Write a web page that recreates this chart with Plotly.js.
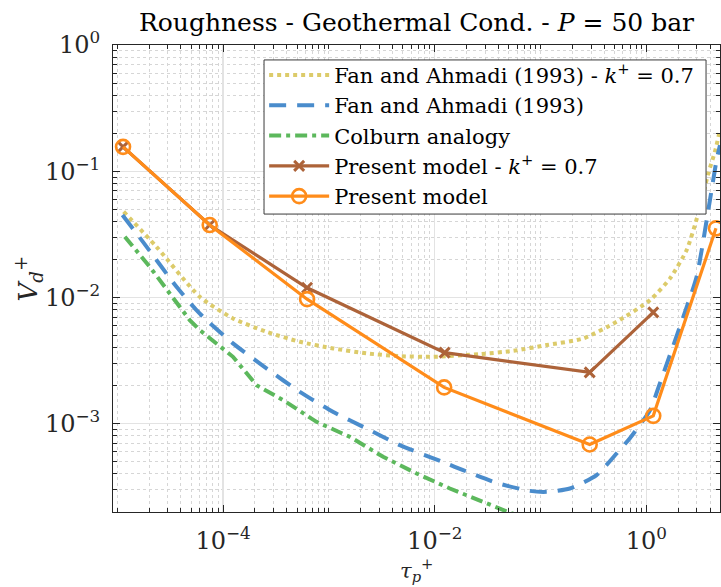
<!DOCTYPE html>
<html>
<head>
<meta charset="utf-8">
<script src="https://cdn.plot.ly/plotly-3.0.1.min.js"></script>
<style>html,body{margin:0;padding:0;background:#fff;}#chart{width:721px;height:587px;}</style>
</head>
<body>
<div id="chart"></div>
<script>
// Fan and Ahmadi (1993) - k+ = 0.7
const fanK_x = [1.15e-5, 2.35e-5, 6.02e-5, 1.24e-4, 2.57e-4, 5.31e-4, 1.10e-3, 2.26e-3, 4.68e-3, 9.66e-3, 0.0267, 0.0551, 0.114, 0.253, 0.523, 1.08, 1.67, 2.40, 3.09, 3.84, 4.44, 4.95];
const fanK_y = [0.0478, 0.0252, 0.01013, 0.00683, 0.00535, 0.00446, 0.00395, 0.00361, 0.00343, 0.00339, 0.00356, 0.00378, 0.00420, 0.00474, 0.00642, 0.00953, 0.01417, 0.0238, 0.0464, 0.0962, 0.143, 0.212];
// Fan and Ahmadi (1993)
const fan_x = [1.12e-5, 1.75e-5, 3.63e-5, 5.61e-5, 6.97e-5, 1.24e-4, 2.57e-4, 5.31e-4, 1.10e-3, 2.26e-3, 4.68e-3, 0.01295, 0.01853, 0.0384, 0.0793, 0.114, 0.189, 0.338, 0.523, 0.698, 1.08, 1.34, 2.23, 2.98, 3.98, 4.60, 4.95];
const fan_y = [0.0450, 0.0276, 0.01216, 0.00794, 0.00662, 0.00433, 0.00274, 0.00179, 0.00124, 9.18e-4, 6.77e-4, 4.84e-4, 4.29e-4, 3.40e-4, 2.94e-4, 2.89e-4, 3.07e-4, 3.92e-4, 5.82e-4, 7.69e-4, 1.28e-3, 2.09e-3, 7.03e-3, 0.0146, 0.0591, 0.1227, 0.161];
// Colburn analogy
const colburn_x = [1.18e-5, 2.03e-5, 4.84e-5, 6.02e-5, 1.24e-4, 2.07e-4, 3.69e-4, 7.64e-4, 1.58e-3, 3.25e-3, 6.73e-3, 0.0139, 0.0494, 0.152];
const colburn_y = [0.0303, 0.0175, 0.00662, 0.00552, 0.00339, 0.00202, 0.00154, 1.035e-3, 7.87e-4, 5.47e-4, 4.04e-4, 3.07e-4, 2.0e-4, 1.44e-4];
// Present model - k+ = 0.7
const presentK_x = [1.135e-5, 7.48e-5, 6.22e-4, 0.0124, 0.291, 1.16];
const presentK_y = [0.156, 0.0375, 0.01194, 0.00366, 0.00255, 0.00762];
// Present model
const present_x = [1.135e-5, 7.48e-5, 6.22e-4, 0.01227, 0.291, 1.16, 4.54];
const present_y = [0.156, 0.0375, 0.0097, 0.00194, 6.85e-4, 1.155e-3, 0.0353];

const xTickVals = [1e-4, 1e-2, 1];
const xTickText = ['10<sup>−4</sup>', '10<sup>−2</sup>', '10<sup>0</sup>'];
const yTickVals = [1e-3, 1e-2, 1e-1, 1];
const yTickText = ['10<sup>−3</sup>', '10<sup>−2</sup>', '10<sup>−1</sup>', '10<sup>0</sup>'];

function minorVals(lo, hi) {
  const v = [];
  for (let e = lo; e <= hi; e++) {
    for (let m = 1; m <= 9; m++) v.push(m * Math.pow(10, e));
  }
  return v;
}
const xMinor = minorVals(-6, 1).filter(v => xTickVals.every(t => Math.abs(t - v) / t > 1e-6));
const yMinor = minorVals(-4, 0).filter(v => yTickVals.every(t => Math.abs(t - v) / t > 1e-6));

const FONT = 'DejaVu Serif';
const ink = '#262626';

const traces = [
  {x: fanK_x, y: fanK_y, name: 'Fan and Ahmadi (1993) - <i>k</i><sup>+</sup> = 0.7', mode: 'lines',
   line: {color: '#dccb6a', width: 4, dash: '4px,4px', shape: 'spline', smoothing: 0.6}},
  {x: fan_x, y: fan_y, name: 'Fan and Ahmadi (1993)', mode: 'lines',
   line: {color: '#4a8ccc', width: 4, dash: '17px,11px', shape: 'spline', smoothing: 0.6}},
  {x: colburn_x, y: colburn_y, name: 'Colburn analogy', mode: 'lines',
   line: {color: '#5cb85c', width: 4, dash: '12px,5px,4px,5px'}},
  {x: presentK_x, y: presentK_y, name: 'Present model - <i>k</i><sup>+</sup> = 0.7', mode: 'lines+markers',
   line: {color: '#ad6339', width: 3.2},
   marker: {symbol: 'x-thin-open', size: 10, color: '#ad6339', line: {color: '#ad6339', width: 3}}},
  {x: present_x, y: present_y, name: 'Present model', mode: 'lines+markers',
   line: {color: '#ff8c1a', width: 3.2},
   marker: {symbol: 'circle-open', size: 14, color: '#ff8c1a', line: {color: '#ff8c1a', width: 2.6}}}
];

const axisCommon = {
  type: 'log',
  showline: true, linecolor: ink, linewidth: 1, mirror: 'allticks',
  ticks: 'inside', ticklen: 7, tickcolor: ink, tickwidth: 1,
  showgrid: true, gridcolor: '#e3e3e3', gridwidth: 1.2,
  zeroline: false,
  tickmode: 'array',
  tickfont: {family: FONT, size: 24, color: ink},
  ticklabelstandoff: 7
};

const layout = {
  width: 721, height: 587,
  margin: {l: 113, r: 1, t: 45, b: 75, pad: 0},
  paper_bgcolor: '#fff', plot_bgcolor: '#fff',
  showlegend: true,
  title: {text: 'Roughness - Geothermal Cond. - <i>P</i> = 50 bar', x: 0.5, xanchor: 'center',
          xref: 'paper', yref: 'container', y: 0.962, yanchor: 'middle',
          font: {family: FONT, size: 25, color: '#000'}},
  xaxis: Object.assign({}, axisCommon, {
    range: [-5.04, 0.695], tickvals: xTickVals, ticktext: xTickText,
    minor: {tickmode: 'array', tickvals: xMinor, ticks: 'inside', ticklen: 4, tickcolor: ink,
            showgrid: true, gridcolor: '#d6d6d6', griddash: 'dot', gridwidth: 1}
  }),
  yaxis: Object.assign({}, axisCommon, {
    range: [-3.699, 0], tickvals: yTickVals, ticktext: yTickText,
    minor: {tickmode: 'array', tickvals: yMinor, ticks: 'inside', ticklen: 4, tickcolor: ink,
            showgrid: true, gridcolor: '#d6d6d6', griddash: 'dot', gridwidth: 1}
  }),
  legend: {x: 0.249, y: 0.979, xanchor: 'left', yanchor: 'top',
           bgcolor: 'rgba(0,0,0,0)', borderwidth: 0,
           font: {family: FONT, size: 21, color: '#000'},
           itemwidth: 60, tracegroupgap: 0, traceorder: 'normal'},
  shapes: [
    {type: 'rect', xref: 'paper', yref: 'paper', x0: 0.2488, x1: 0.977, y0: 0.638, y1: 0.968,
     fillcolor: '#fff', line: {color: '#3a3a3a', width: 1}, layer: 'above'}
  ],
  annotations: [
    {text: '<i>τ</i><sub><i>p</i></sub><sup>+</sup>', xref: 'paper', yref: 'paper', x: 0.5, y: -0.125,
     xanchor: 'center', yanchor: 'middle', showarrow: false, font: {family: FONT, size: 21, color: ink}},
    {text: '<i>V</i><sub><i>d</i></sub><sup>+</sup>', xref: 'paper', yref: 'paper', x: -0.14, y: 0.5,
     textangle: -90, xanchor: 'center', yanchor: 'middle', showarrow: false, font: {family: FONT, size: 26, color: ink}}
  ]
};

Plotly.newPlot('chart', traces, layout, {displayModeBar: false, staticPlot: true});
</script>
</body>
</html>
